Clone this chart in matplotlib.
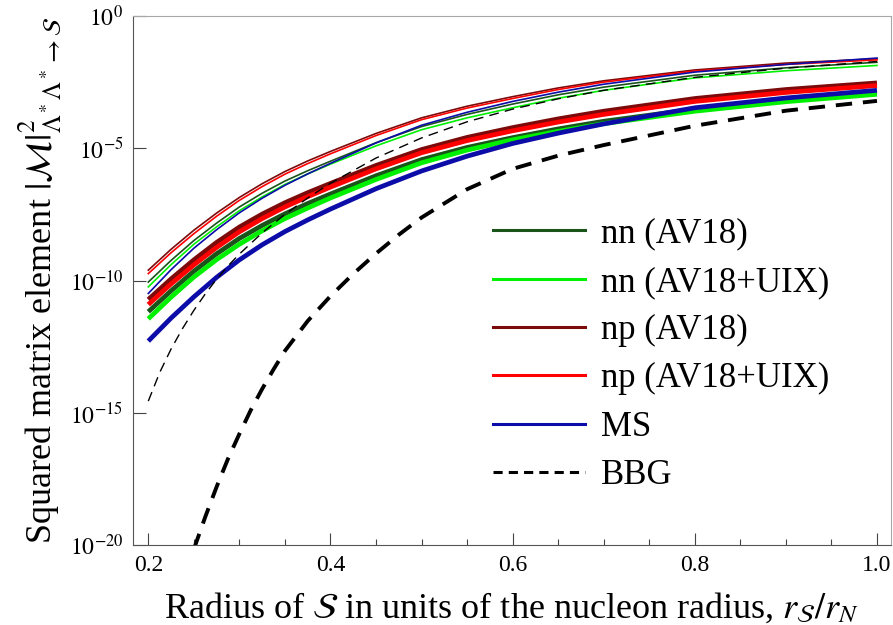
import matplotlib
matplotlib.use("Agg")
import numpy as np
import matplotlib.pyplot as plt
from matplotlib.lines import Line2D
from matplotlib.ticker import FixedLocator, FixedFormatter, MultipleLocator, NullLocator

# values, stored as log10 of |M|^2
x_grid = [0.2, 0.225, 0.25, 0.275, 0.3, 0.325, 0.35, 0.375, 0.4, 0.45, 0.5, 0.55, 0.6, 0.65, 0.7, 0.8, 0.9, 1.0]

# thin set
thin_nn_av18 = [-10.06, -9.24, -8.49, -7.83, -7.22, -6.70, -6.24, -5.85, -5.49, -4.79, -4.18, -3.72, -3.33, -2.98,
                -2.69, -2.24, -1.96, -1.75]
thin_nn_uix = [-10.24, -9.40, -8.63, -7.97, -7.36, -6.84, -6.37, -5.97, -5.60, -4.91, -4.30, -3.85, -3.47, -3.11,
               -2.81, -2.34, -2.07, -1.87]
thin_np_av18 = [-9.61, -8.82, -8.10, -7.45, -6.86, -6.34, -5.88, -5.48, -5.12, -4.44, -3.85, -3.41, -3.05, -2.72,
                -2.45, -2.04, -1.78, -1.62]
thin_np_uix = [-9.74, -8.95, -8.23, -7.57, -6.97, -6.45, -5.98, -5.58, -5.21, -4.52, -3.92, -3.48, -3.12, -2.78,
               -2.50, -2.08, -1.83, -1.66]
thin_ms = [-10.49, -9.59, -8.78, -8.08, -7.44, -6.89, -6.40, -5.97, -5.57, -4.80, -4.13, -3.64, -3.23, -2.88,
           -2.58, -2.12, -1.83, -1.59]
x_thin_bbg = [0.2, 0.2125, 0.225, 0.2375, 0.25, 0.2625, 0.275, 0.2875, 0.3, 0.325, 0.35, 0.375, 0.4, 0.45, 0.5,
              0.55, 0.6, 0.65, 0.7, 0.8, 0.9, 1.0]
thin_bbg = [-14.56, -13.48, -12.59, -11.82, -11.13, -10.51, -9.95, -9.45, -9.00, -8.20, -7.50, -6.88, -6.32, -5.37,
            -4.61, -4.00, -3.52, -3.13, -2.81, -2.32, -1.97, -1.72]

# thick set
thick_nn_av18 = [-11.18, -10.39, -9.65, -8.99, -8.41, -7.92, -7.48, -7.09, -6.73, -6.04, -5.43, -4.97, -4.60, -4.27,
                 -3.98, -3.52, -3.17, -2.89]
thick_nn_uix = [-11.45, -10.63, -9.87, -9.21, -8.63, -8.12, -7.66, -7.26, -6.88, -6.18, -5.55, -5.07, -4.68, -4.36,
                -4.07, -3.60, -3.24, -2.96]
thick_np_av18 = [-10.72, -9.94, -9.22, -8.56, -7.98, -7.49, -7.06, -6.68, -6.33, -5.65, -5.05, -4.59, -4.22, -3.89,
                 -3.60, -3.12, -2.78, -2.53]
thick_np_uix = [-10.91, -10.13, -9.41, -8.75, -8.16, -7.66, -7.22, -6.83, -6.47, -5.78, -5.17, -4.71, -4.34, -4.01,
                -3.72, -3.23, -2.89, -2.63]
thick_ms = [-12.29, -11.42, -10.62, -9.88, -9.22, -8.65, -8.15, -7.71, -7.30, -6.53, -5.86, -5.30, -4.82, -4.43,
            -4.08, -3.47, -3.10, -2.81]
x_thick_bbg = [0.25, 0.2625, 0.275, 0.2875, 0.3, 0.3125, 0.325, 0.3375, 0.35, 0.375, 0.4, 0.425, 0.45, 0.475, 0.5,
               0.55, 0.6, 0.65, 0.7, 0.8, 0.9, 1.0]
thick_bbg = [-20.16, -18.94, -17.80, -16.74, -15.80, -14.90, -14.10, -13.36, -12.66, -11.53, -10.59, -9.75, -8.98,
             -8.27, -7.62, -6.55, -5.78, -5.28, -4.88, -4.15, -3.58, -3.21]

labels = ["nn (AV18)", "nn (AV18+UIX)", "np (AV18)", "np (AV18+UIX)", "MS", "BBG"]
colors = ["#1a541a", "#00f000", "#7d0a0a", "#ff0000", "#0c0ca8", "black"]

plt.rcParams["font.family"] = ["Liberation Serif", "DejaVu Serif"]
plt.rcParams["mathtext.fontset"] = "stix"

fig = plt.figure(figsize=(8.93, 6.25), dpi=100)
ax = fig.add_axes([133 / 893, 80 / 625, 758 / 893, 529 / 625])

thin = [thin_nn_av18, thin_nn_uix, thin_np_av18, thin_np_uix, thin_ms]
thick = [thick_nn_av18, thick_nn_uix, thick_np_av18, thick_np_uix, thick_ms]

for ys, c in zip(thick, colors):
    ax.plot(x_grid, 10.0 ** np.array(ys), color=c, lw=3.4, solid_capstyle="butt")
ax.plot(x_thick_bbg, 10.0 ** np.array(thick_bbg), color="black", lw=2.8, dashes=(4.2, 2.8))

for ys, c in zip(thin, colors):
    ax.plot(x_grid, 10.0 ** np.array(ys), color=c, lw=1.2)
ax.plot(x_thin_bbg, 10.0 ** np.array(thin_bbg), color="black", lw=1.0, dashes=(7, 4.5))

ax.set_yscale("log")
ax.set_xlim(0.1832, 1.0154)
ax.set_ylim(1e-20, 1e0)

ax.xaxis.set_major_locator(FixedLocator([0.2, 0.4, 0.6, 0.8, 1.0]))
ax.xaxis.set_major_formatter(FixedFormatter(["0.2", "0.4", "0.6", "0.8", "1.0"]))
ax.xaxis.set_minor_locator(MultipleLocator(0.05))
ax.yaxis.set_major_locator(FixedLocator([1e0, 1e-5, 1e-10, 1e-15, 1e-20]))
ax.yaxis.set_major_formatter(FixedFormatter(["$10^{0}$", "$10^{-5}$", "$10^{-10}$", "$10^{-15}$", "$10^{-20}$"]))
ax.yaxis.set_minor_locator(NullLocator())

ax.tick_params(which="both", direction="in", top=False, right=False, color="#444444",
               labelsize=17, pad=7, width=0.8)
ax.tick_params(which="major", length=9)
ax.tick_params(which="minor", length=4.5)

for side in ["left", "bottom"]:
    ax.spines[side].set_color("#555555")
for side in ["top", "right"]:
    ax.spines[side].set_color("#a8a8a8")

ax.set_xlabel(r"Radius of $\mathcal{S}$ in units of the nucleon radius, $r_\mathcal{S}/r_N$",
              fontsize=26, labelpad=11)
ax.set_ylabel(r"Squared matrix element $|\mathcal{M}|^2_{\Lambda^*\Lambda^*\to\mathcal{S}}$",
              fontsize=26, labelpad=4)

handles = [Line2D([], [], color=c, lw=2.2) for c in colors[:5]]
handles.append(Line2D([], [], color="black", lw=2.2, dashes=(3, 2)))
ax.legend(handles, labels, loc="upper left", bbox_to_anchor=(0.475, 0.619), frameon=False,
          fontsize=25, handlelength=2.65, handletextpad=0.45, labelspacing=0.44, borderpad=0,
          borderaxespad=0)

fig.savefig("out.png", dpi=100)
